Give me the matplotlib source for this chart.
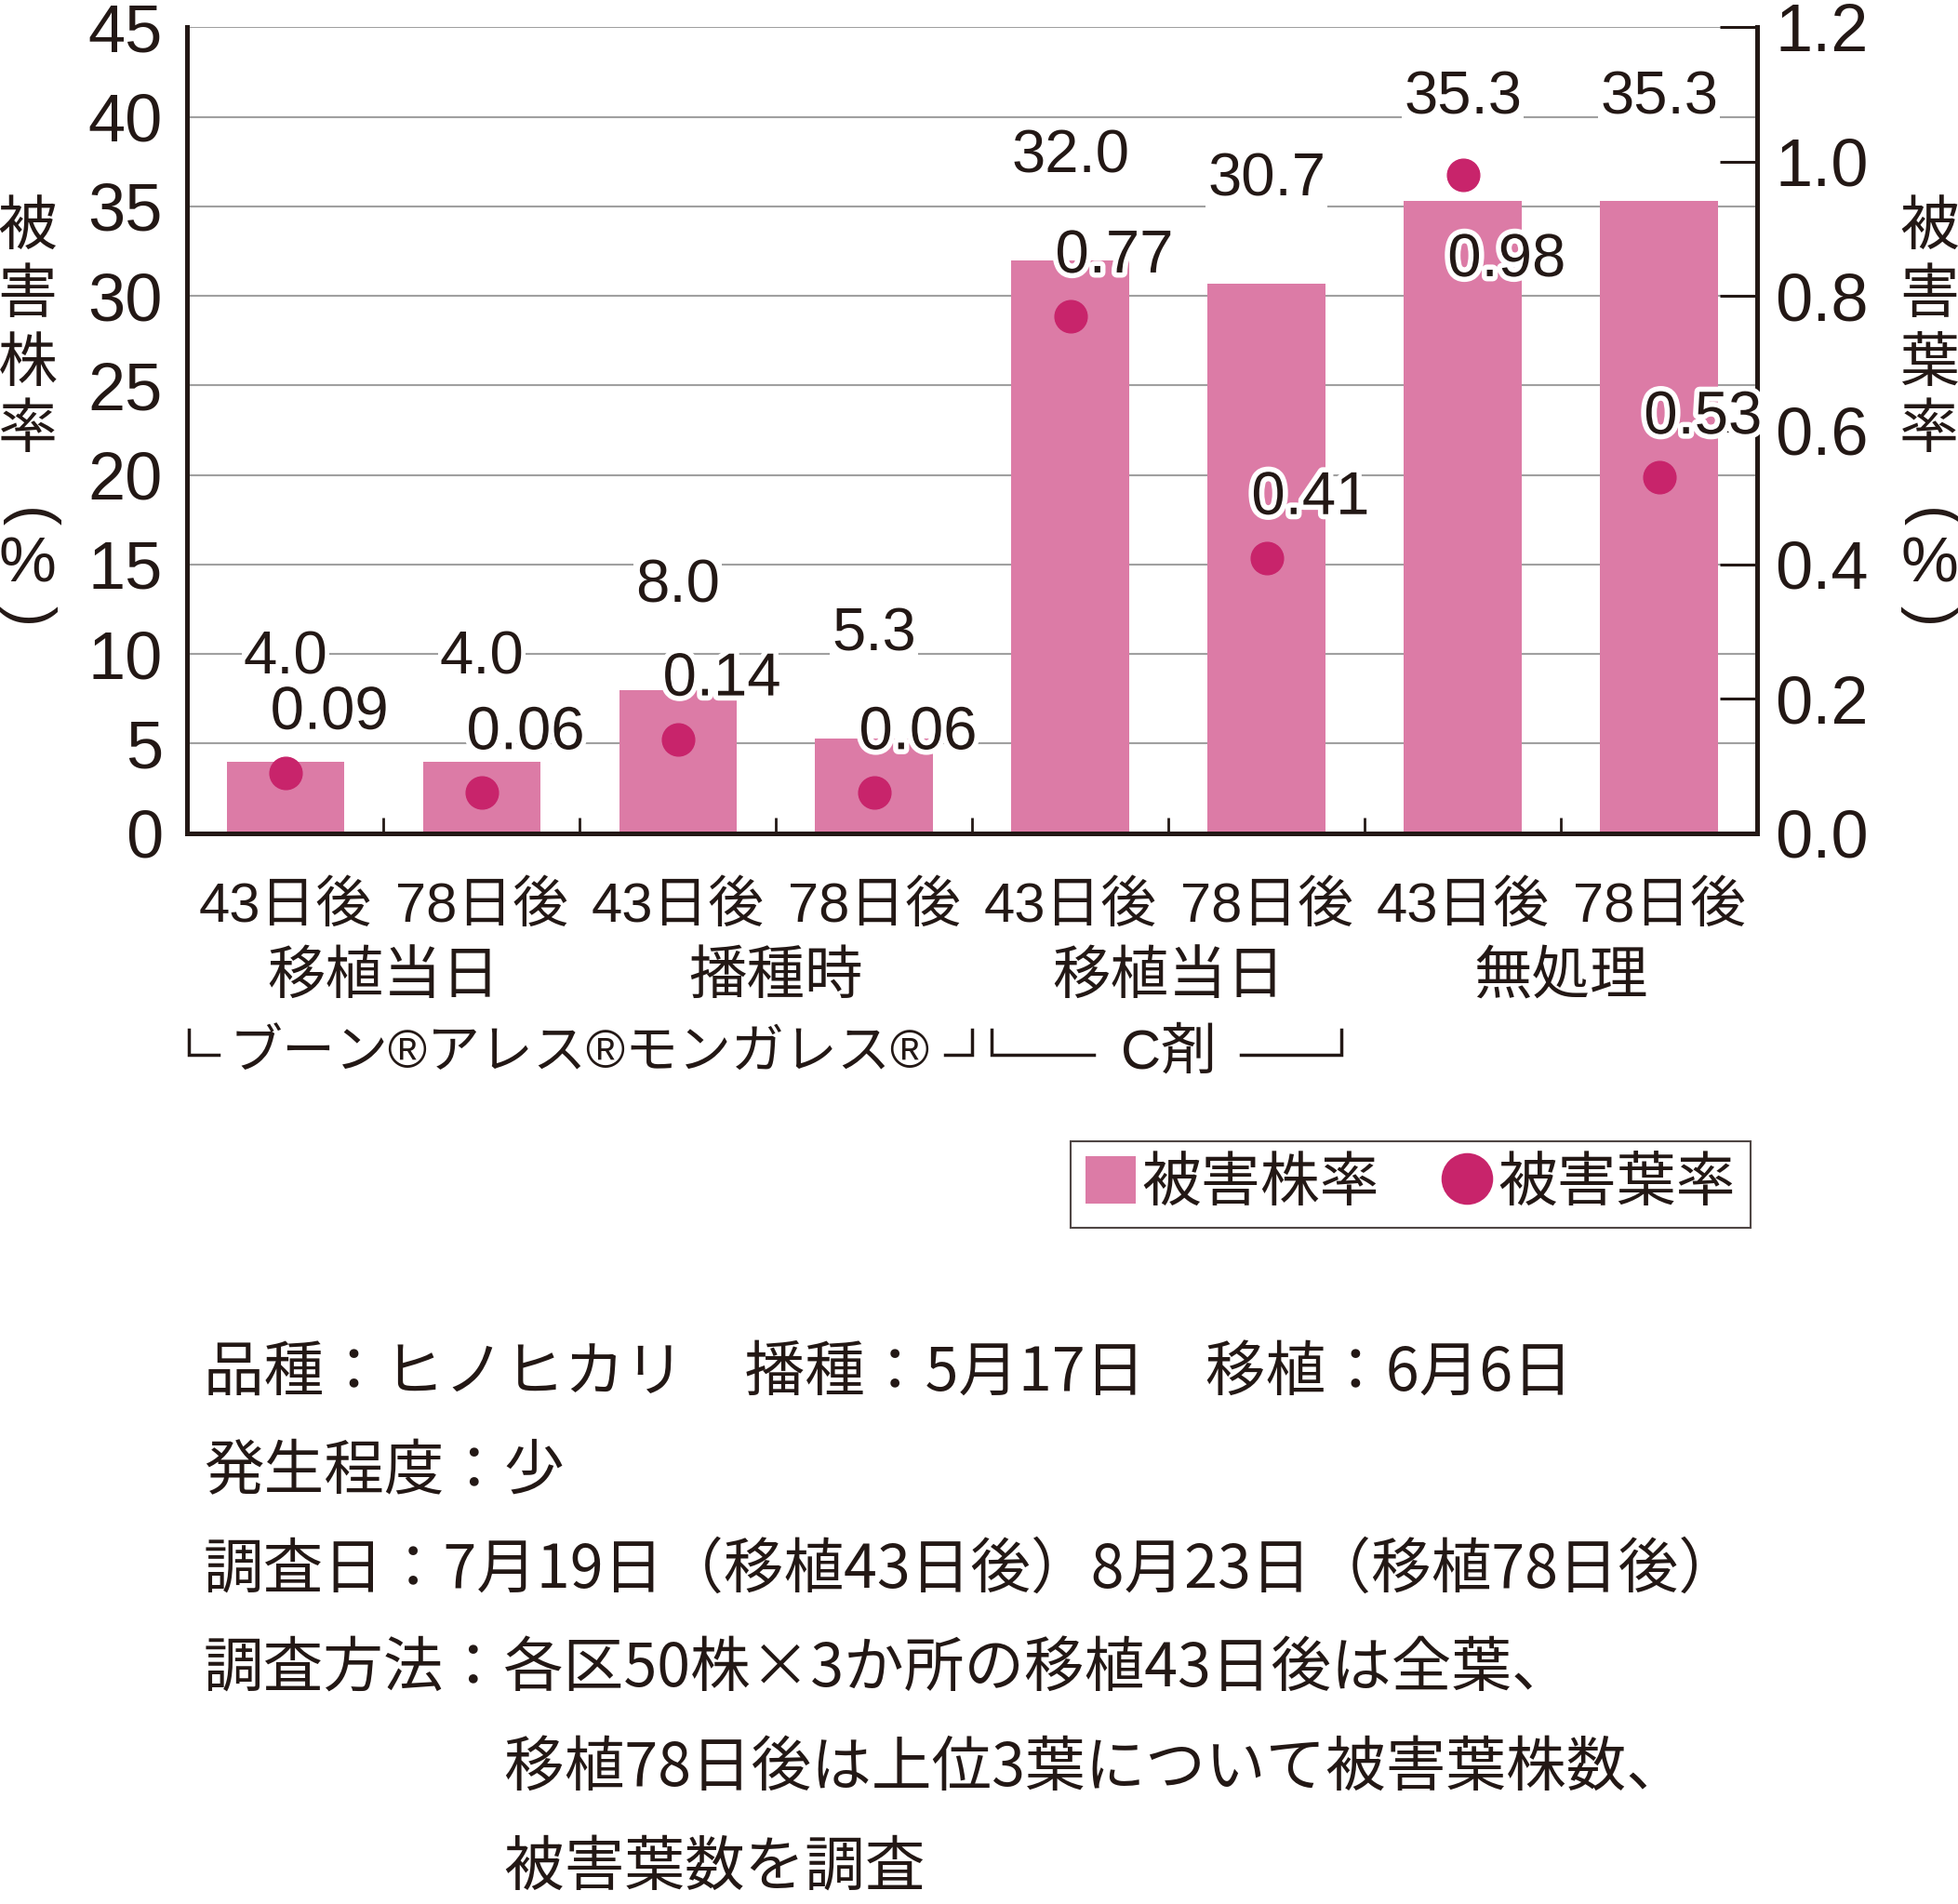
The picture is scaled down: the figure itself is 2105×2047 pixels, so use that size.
import matplotlib.pyplot as plt
import matplotlib.transforms as mtransforms
from matplotlib import patheffects as pe
from matplotlib.patches import Patch
from matplotlib.lines import Line2D

plt.rcParams['font.family'] = ['Liberation Sans', 'Noto Sans CJK JP']

# Data
timing = ['43日後', '78日後'] * 4
groups = ['移植当日', '播種時', '移植当日', '無処理']
damaged_plants = [4.0, 4.0, 8.0, 5.3, 32.0, 30.7, 35.3, 35.3]      # 被害株率 (%)
damaged_leaves = [0.09, 0.06, 0.14, 0.06, 0.77, 0.41, 0.98, 0.53]  # 被害葉率 (%)
left_ticks = [0, 5, 10, 15, 20, 25, 30, 35, 40, 45]
right_ticks = [0.0, 0.2, 0.4, 0.6, 0.8, 1.0, 1.2]
brand_label = 'ブーン®アレス®モンガレス®'
chem_label = 'C剤'
left_title = ['被', '害', '株', '率']
right_title = ['被', '害', '葉', '率']
notes = [
    '品種：ヒノヒカリ　播種：5月17日　移植：6月6日',
    '発生程度：少',
    '調査日：7月19日（移植43日後）8月23日（移植78日後）',
    '調査方法：各区50株×3か所の移植43日後は全葉、',
    '　　　　　移植78日後は上位3葉について被害葉株数、',
    '　　　　　被害葉数を調査',
]

INK = '#231815'
BAR = '#dc7ba6'
DOT = '#c8246b'
GRID = '#a0a0a0'

fig = plt.figure(figsize=(21.05, 20.47), dpi=100)
ax = fig.add_axes([0.0957, 0.5625, 0.8017, 0.4231])
x = list(range(len(damaged_plants)))

# bars (left axis)
ax.bar(x, damaged_plants, width=0.6, color=BAR, zorder=2)
ax.set_xlim(-0.5, len(x) - 0.5)
ax.set_ylim(0, 45)
ax.set_yticks(left_ticks)
ax.yaxis.grid(True, color=GRID, linewidth=1.5)
ax.set_axisbelow(True)
ax.tick_params(axis='y', length=0, pad=19, labelsize=52, labelcolor=INK)

ax.set_xticks(x, timing)
ax.tick_params(axis='x', which='major', length=0, pad=37, labelsize=43, labelcolor=INK)
ax.set_xticks([i + 0.5 for i in x[:-1]], minor=True)
ax.tick_params(axis='x', which='minor', direction='in', length=12, width=2, color=INK)

for side in ['top', 'right']:
    ax.spines[side].set_visible(False)
for side in ['left', 'bottom']:
    ax.spines[side].set_color(INK)
    ax.spines[side].set_linewidth(3.6)

for xi, v in zip(x, damaged_plants):
    ax.annotate(f'{v:.1f}', (xi, v), xytext=(0, 80), textcoords='offset points',
                ha='center', va='center', fontsize=47, color=INK,
                bbox=dict(boxstyle='square,pad=0.03', fc='white', ec='none'))

# dots (right axis)
ax2 = ax.twinx()
ax2.set_ylim(0, 1.2)
ax2.set_yticks(right_ticks, [f'{t:.1f}' for t in right_ticks])
ax2.tick_params(axis='y', direction='in', length=29, width=2.2, pad=14,
                labelsize=52, labelcolor=INK, color=INK)
for side in ['top', 'left', 'bottom']:
    ax2.spines[side].set_visible(False)
ax2.spines['right'].set_color(INK)
ax2.spines['right'].set_linewidth(3.6)

ax2.scatter(x, damaged_leaves, s=25 ** 2, color=DOT, zorder=3, clip_on=False)
scale = 45 / 1.2
for xi, v, b in zip(x, damaged_leaves, damaged_plants):
    dy = -66 if v * scale > b else 46
    ax2.annotate(f'{v:.2f}', (xi, v), xytext=(34, dy), textcoords='offset points',
                 ha='center', va='center', fontsize=47, color=INK, zorder=4,
                 path_effects=[pe.withStroke(linewidth=8, foreground='white')])

# group labels under the axis
trans = mtransforms.blended_transform_factory(ax.transData, ax.transAxes)
for i, g in enumerate(groups):
    ax.text(2 * i + 0.5, -0.18, g, transform=trans, ha='center', va='center',
            fontsize=45, color=INK)

ax.text(1.5, -0.274, brand_label, transform=trans, ha='center', va='center',
        fontsize=41, color=INK)
ax.text(4.5, -0.274, chem_label, transform=trans, ha='center', va='center',
        fontsize=43, color=INK)

y_top, y_bot = -0.244, -0.2754
brackets = [
    ([-0.495, -0.495, -0.34], [y_top, y_bot, y_bot]),
    ([3.36, 3.5, 3.5], [y_bot, y_bot, y_top]),
    ([3.6, 3.6, 4.12], [y_top, y_bot, y_bot]),
    ([4.87, 5.38, 5.38], [y_bot, y_bot, y_top]),
]
for bx, by in brackets:
    ax.plot(bx, by, transform=trans, clip_on=False, color=INK, lw=2.5,
            solid_joinstyle='miter')

# vertical axis titles
char_y = [245, 318, 392, 463]
for xf, chars in [(0.0140, left_title), (0.9853, right_title)]:
    for c, yy in zip(chars, char_y):
        fig.text(xf, 1 - yy / 2047, c, ha='center', va='center', fontsize=46,
                 color=INK, family=['Noto Sans CJK JP'])
    fig.text(xf, 1 - 557 / 2047, '(', rotation=-90, ha='center', va='center',
             fontsize=48, color=INK)
    fig.text(xf, 1 - 607 / 2047, '%', ha='center', va='center',
             fontsize=50, color=INK)
    fig.text(xf, 1 - 662 / 2047, ')', rotation=-90, ha='center', va='center',
             fontsize=48, color=INK)

# legend
handles = [Patch(facecolor=BAR, edgecolor='none'),
           Line2D([], [], marker='o', ls='none', markersize=40,
                  markerfacecolor=DOT, markeredgecolor='none')]
leg = fig.legend(handles, ['被害株率', '被害葉率'], loc='center',
                 bbox_to_anchor=(0.7204, 0.378), ncol=2, fontsize=46,
                 frameon=True, fancybox=False, edgecolor=INK,
                 handlelength=0.85, handleheight=0.85, handletextpad=0.1,
                 columnspacing=1.05, borderpad=0.25, borderaxespad=0)
leg.get_frame().set_linewidth(1.5)
for t in leg.get_texts():
    t.set_color(INK)

# notes
for i, line in enumerate(notes):
    fig.text(0.104, 1 - (1476 + i * 106.5) / 2047, line, ha='left', va='center',
             fontsize=46.5, color=INK, family=['Noto Sans CJK JP'])

fig.savefig('out.png', dpi=100)
